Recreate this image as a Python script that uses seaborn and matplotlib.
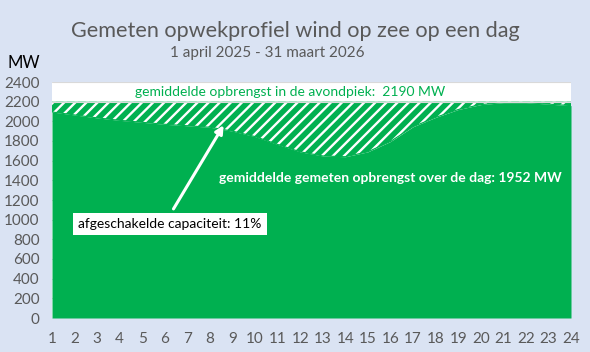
import matplotlib
matplotlib.use("Agg")
import matplotlib.pyplot as plt
import seaborn as sns
import numpy as np

hours = list(range(1, 25))
mw = [2095, 2065, 2035, 2010, 1990, 1970, 1955, 1940, 1900, 1845, 1765, 1690,
      1648, 1640, 1690, 1795, 1945, 2040, 2120, 2170, 2190, 2190, 2175, 2160]
peak_level = 2200
title = "Gemeten opwekprofiel wind op zee op een dag"
subtitle = "1 april 2025 - 31 maart 2026"
band_text = "gemiddelde opbrengst in de avondpiek:  2190 MW"
day_text = "gemiddelde gemeten opbrengst over de dag: 1952 MW"
box_text = "afgeschakelde capaciteit: 11%"
y_ticks = list(range(0, 2401, 200))

GREEN = "#00B050"
BG = "#DAE3F3"
GREY = "#595959"

sns.set_theme(style="white")
plt.rcParams['font.family'] = ['Lato', 'DejaVu Sans']
plt.rcParams['hatch.linewidth'] = 1.7

fig = plt.figure(figsize=(5.9, 3.52), dpi=100, facecolor=BG)
ax = fig.add_axes([52/590, 34/352, (571-52)/590, 236/352])
ax.set_facecolor("white")

for t in y_ticks:
    ax.axhline(t, color="#D9D9D9", lw=0.8, zorder=0)

ax.fill_between(hours, 0, mw, color=GREEN, lw=0, zorder=2)
ax.fill_between(hours, mw, peak_level, facecolor=GREEN, edgecolor="white",
                hatch="///", lw=0, zorder=2)
sns.lineplot(x=hours, y=mw, color=GREEN, lw=0.8, ax=ax, zorder=3)
ax.axhline(peak_level, color="#D9D9D9", lw=0.8, zorder=3)

ax.set_xlim(1, 24)
ax.set_ylim(0, 2400)
ax.set_xticks(hours)
ax.set_yticks(y_ticks)
ax.tick_params(axis="both", colors=GREY, labelsize=11, length=0, pad=9)
ax.tick_params(axis="x", pad=10)
ax.set_xlabel("")
ax.set_ylabel("")
for s in ax.spines.values():
    s.set_visible(False)

ax.text(11.55, 2295, band_text, color=GREEN, fontsize=10, ha="center", va="center", zorder=5)
ax.text(15.98, 1420, day_text, color="white", fontsize=10, fontweight="bold",
        ha="center", va="center", zorder=5)
ax.annotate("", xy=(8.67, 1985), xytext=(6.32, 1085),
            arrowprops=dict(arrowstyle="-|>", color="white", lw=2.2, mutation_scale=12),
            zorder=5)
ax.text(6.23, 955, box_text, color="black", fontsize=10, ha="center", va="center",
        bbox=dict(facecolor="white", edgecolor="none", pad=3.5), zorder=6)

fig.text(295/590, 1 - 31/352, title, color=GREY, fontsize=15.6, ha="center", va="center")
fig.text(267/590, 1 - 53/352, subtitle, color=GREY, fontsize=11, ha="center", va="center")
fig.text(24/590, 1 - 63/352, "MW", color="black", fontsize=12, ha="center", va="center")

fig.savefig("out.png", dpi=100, facecolor=BG)
